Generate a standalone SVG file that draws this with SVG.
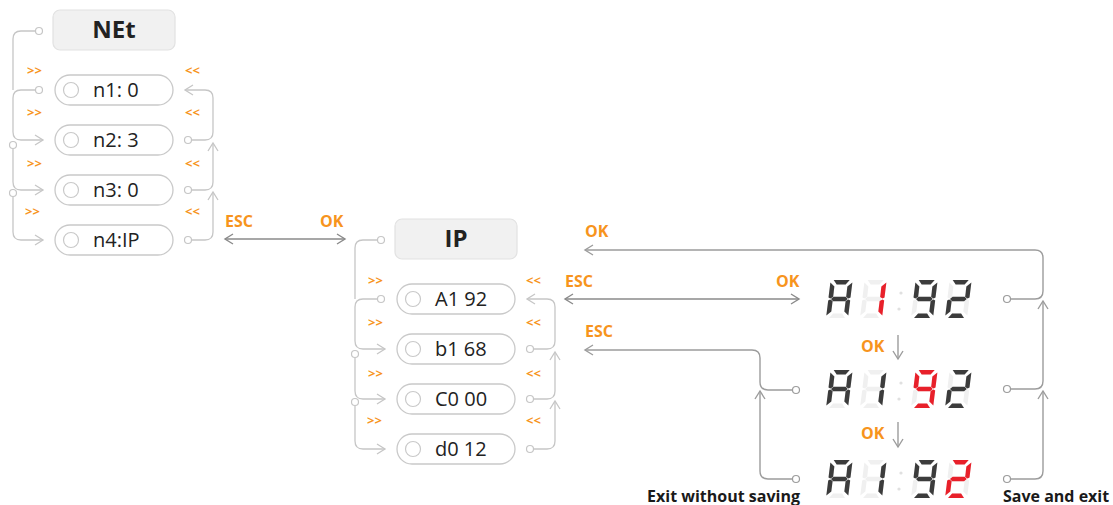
<svg xmlns="http://www.w3.org/2000/svg" xmlns:xlink="http://www.w3.org/1999/xlink" width="1113" height="505" viewBox="0 0 1113 505">
<style>
text{font-family:"Open Sans","Liberation Sans",sans-serif}
.hdr{fill:#f1f1f1;stroke:#e2e2e2;stroke-width:1.2}
.hdrt{font-size:24px;font-weight:700;fill:#222;text-anchor:middle}
.pill{fill:#fff;stroke:#c9c9c9;stroke-width:1.3}
.pc{fill:#fff;stroke:#c9c9c9;stroke-width:1.2}
.pt{font-size:20px;fill:#222}
.lbl{font-size:16px;font-weight:700;fill:#f7941d}
.sm{font-size:13px;font-weight:700;fill:#f7941d}
.blk{font-size:16px;font-weight:700;fill:#1a1a1a}
.mc{fill:none;stroke:#c6c6c6;stroke-width:1.3}
.mcd{fill:#fff;stroke:#c6c6c6;stroke-width:1.2}
.dc{fill:none;stroke:#9c9c9c;stroke-width:1.4}
.dcd{fill:#fff;stroke:#9c9c9c;stroke-width:1.2}
.ec{fill:none;stroke:#8a8a8a;stroke-width:1.4}
.off{fill:#f0f0f0}
.on{fill:#3c3c3c}
.red{fill:#e8202a}
.dot{fill:#e0e0e0}
</style>
<defs>
<marker id="am" viewBox="-10 -7 12 14" markerWidth="12" markerHeight="14" refX="0" refY="0" orient="auto-start-reverse" markerUnits="userSpaceOnUse">
<path d="M-8,-5 L0,0 L-8,5" fill="none" stroke="#c6c6c6" stroke-width="1.3"/>
</marker>
<marker id="ad" viewBox="-10 -7 12 14" markerWidth="12" markerHeight="14" refX="0" refY="0" orient="auto-start-reverse" markerUnits="userSpaceOnUse">
<path d="M-8,-5 L0,0 L-8,5" fill="none" stroke="#9c9c9c" stroke-width="1.4"/>
</marker>
<marker id="ae" viewBox="-10 -7 12 14" markerWidth="12" markerHeight="14" refX="0" refY="0" orient="auto-start-reverse" markerUnits="userSpaceOnUse">
<path d="M-8,-5 L0,0 L-8,5" fill="none" stroke="#8a8a8a" stroke-width="1.4"/>
</marker>
<path id="sa" d="M3,0 H19 L15.5,4.5 H6.5 Z"/>
<path id="sb" d="M22,2.5 L22,17.6 L20.2,18.6 L17.5,17 L17.5,6.5 Z"/>
<path id="sc" d="M22,20.4 L22,35.5 L17.5,31.5 L17.5,21 L20.2,19.4 Z"/>
<path id="sd" d="M3,38 L6.5,33.5 H15.5 L19,38 Z"/>
<path id="se" d="M0,20.4 L1.8,19.4 L4.5,21 L4.5,31.5 L0,35.5 Z"/>
<path id="sf" d="M0,2.5 L4.5,6.5 L4.5,17 L1.8,18.6 L0,17.6 Z"/>
<path id="sg" d="M2.6,19 L5,16.8 H17 L19.4,19 L17,21.2 H5 Z"/>
<g id="d8"><use href="#sa"/><use href="#sb"/><use href="#sc"/><use href="#sd"/><use href="#se"/><use href="#sf"/><use href="#sg"/></g>
<g id="dA"><use href="#sa"/><use href="#sb"/><use href="#sc"/><use href="#se"/><use href="#sf"/><use href="#sg"/></g>
<g id="d1"><use href="#sb"/><use href="#sc"/></g>
<g id="d9"><use href="#sa"/><use href="#sb"/><use href="#sc"/><use href="#sd"/><use href="#sf"/><use href="#sg"/></g>
<g id="d2"><use href="#sa"/><use href="#sb"/><use href="#sg"/><use href="#se"/><use href="#sd"/></g>
</defs>
<rect width="1113" height="505" fill="#fff"/>

<!-- NEt menu -->
<g id="net-header"><rect class="hdr" x="53" y="10" width="122" height="40" rx="7"/><text class="hdrt" x="114" y="38">NEt</text></g>
<g id="n1"><rect class="pill" x="55" y="75" width="118" height="30" rx="15"/><circle class="pc" cx="71" cy="90" r="7.5"/><text class="pt" x="93" y="97">n1: 0</text></g>
<g id="n2"><rect class="pill" x="55" y="125" width="118" height="30" rx="15"/><circle class="pc" cx="71" cy="140" r="7.5"/><text class="pt" x="93" y="147">n2: 3</text></g>
<g id="n3"><rect class="pill" x="55" y="175" width="118" height="30" rx="15"/><circle class="pc" cx="71" cy="190" r="7.5"/><text class="pt" x="93" y="197">n3: 0</text></g>
<g id="n4"><rect class="pill" x="55" y="225" width="118" height="30" rx="15"/><circle class="pc" cx="71" cy="240" r="7.5"/><text class="pt" x="93" y="247">n4:IP</text></g>

<!-- IP menu -->
<g id="ip-header"><rect class="hdr" x="395" y="219" width="122" height="40" rx="7"/><text class="hdrt" x="456" y="247">IP</text></g>
<g id="a192"><rect class="pill" x="397" y="284" width="118" height="30" rx="15"/><circle class="pc" cx="413" cy="299" r="7.5"/><text class="pt" x="435" y="306">A1 92</text></g>
<g id="b168"><rect class="pill" x="397" y="334" width="118" height="30" rx="15"/><circle class="pc" cx="413" cy="349" r="7.5"/><text class="pt" x="435" y="356">b1 68</text></g>
<g id="c000"><rect class="pill" x="397" y="384" width="118" height="30" rx="15"/><circle class="pc" cx="413" cy="399" r="7.5"/><text class="pt" x="435" y="406">C0 00</text></g>
<g id="d012"><rect class="pill" x="397" y="434" width="118" height="30" rx="15"/><circle class="pc" cx="413" cy="449" r="7.5"/><text class="pt" x="435" y="456">d0 12</text></g>

<!-- Displays -->
<g id="disp1">
<g transform="translate(830.7,280) skewX(-7)"><use href="#d8" class="off"/><use href="#dA" class="on"/></g>
<g transform="translate(864.7,280) skewX(-7)"><use href="#d8" class="off"/><use href="#d1" class="red"/></g>
<circle class="dot" cx="901" cy="293" r="1.6"/><circle class="dot" cx="899" cy="309" r="1.6"/>
<g transform="translate(915.7,280) skewX(-7)"><use href="#d8" class="off"/><use href="#d9" class="on"/></g>
<g transform="translate(949.7,280) skewX(-7)"><use href="#d8" class="off"/><use href="#d2" class="on"/></g>
</g>
<g id="disp2">
<g transform="translate(830.7,370) skewX(-7)"><use href="#d8" class="off"/><use href="#dA" class="on"/></g>
<g transform="translate(864.7,370) skewX(-7)"><use href="#d8" class="off"/><use href="#d1" class="on"/></g>
<circle class="dot" cx="901" cy="383" r="1.6"/><circle class="dot" cx="899" cy="399" r="1.6"/>
<g transform="translate(915.7,370) skewX(-7)"><use href="#d8" class="off"/><use href="#d9" class="red"/></g>
<g transform="translate(949.7,370) skewX(-7)"><use href="#d8" class="off"/><use href="#d2" class="on"/></g>
</g>
<g id="disp3">
<g transform="translate(830.7,460) skewX(-7)"><use href="#d8" class="off"/><use href="#dA" class="on"/></g>
<g transform="translate(864.7,460) skewX(-7)"><use href="#d8" class="off"/><use href="#d1" class="on"/></g>
<circle class="dot" cx="901" cy="473" r="1.6"/><circle class="dot" cx="899" cy="489" r="1.6"/>
<g transform="translate(915.7,460) skewX(-7)"><use href="#d8" class="off"/><use href="#d9" class="on"/></g>
<g transform="translate(949.7,460) skewX(-7)"><use href="#d8" class="off"/><use href="#d2" class="red"/></g>
</g>

<!-- Connectors -->
<g id="connectors">
<path class="mc" d="M35.5,31 H21 Q13,31 13,39 V90"/>
<circle class="mcd" cx="39" cy="31" r="3.5"/>
<path class="mc" d="M35.5,90 H21 Q13,90 13,98 V132 Q13,140 21,140 H43" marker-end="url(#am)"/>
<circle class="mcd" cx="39" cy="90" r="3.5"/>
<path class="mc" d="M13,148.5 V182 Q13,190 21,190 H43" marker-end="url(#am)"/>
<circle class="mcd" cx="13" cy="145" r="3.5"/>
<path class="mc" d="M13,196.5 V232 Q13,240 21,240 H43" marker-end="url(#am)"/>
<circle class="mcd" cx="13" cy="193" r="3.5"/>
<path class="mc" d="M191.5,140 H205 Q213,140 213,132 V98 Q213,90 205,90 H185" marker-end="url(#am)"/>
<circle class="mcd" cx="188" cy="140" r="3.5"/>
<path class="mc" d="M191.5,190 H205 Q213,190 213,182 V143" marker-end="url(#am)"/>
<circle class="mcd" cx="188" cy="190" r="3.5"/>
<path class="mc" d="M191.5,240 H205 Q213,240 213,232 V192" marker-end="url(#am)"/>
<circle class="mcd" cx="188" cy="240" r="3.5"/>
<path class="mc" d="M377.5,240 H363 Q355,240 355,248 V299"/>
<circle class="mcd" cx="381" cy="240" r="3.5"/>
<path class="mc" d="M377.5,299 H363 Q355,299 355,307 V341 Q355,349 363,349 H385" marker-end="url(#am)"/>
<circle class="mcd" cx="381" cy="299" r="3.5"/>
<path class="mc" d="M355,357.5 V391 Q355,399 363,399 H385" marker-end="url(#am)"/>
<circle class="mcd" cx="355" cy="354" r="3.5"/>
<path class="mc" d="M355,405.5 V441 Q355,449 363,449 H385" marker-end="url(#am)"/>
<circle class="mcd" cx="355" cy="402" r="3.5"/>
<path class="mc" d="M533.5,349 H547 Q555,349 555,341 V307 Q555,299 547,299 H527" marker-end="url(#am)"/>
<circle class="mcd" cx="530" cy="349" r="3.5"/>
<path class="mc" d="M533.5,399 H547 Q555,399 555,391 V352" marker-end="url(#am)"/>
<circle class="mcd" cx="530" cy="399" r="3.5"/>
<path class="mc" d="M533.5,449 H547 Q555,449 555,441 V401" marker-end="url(#am)"/>
<circle class="mcd" cx="530" cy="449" r="3.5"/>
<path class="ec" d="M225,239 H345" marker-start="url(#ae)" marker-end="url(#ae)"/>
<path class="ec" d="M565,299 H799" marker-start="url(#ae)" marker-end="url(#ae)"/>
<path class="dc" d="M1010.5,299 H1035 Q1043,299 1043,291 V258 Q1043,250 1035,250 H585" marker-end="url(#ad)"/>
<circle class="dcd" cx="1007" cy="299" r="3.5"/>
<path class="dc" d="M1010.5,389 H1035 Q1043,389 1043,381 V301" marker-end="url(#ad)"/>
<circle class="dcd" cx="1007" cy="389" r="3.5"/>
<path class="dc" d="M1010.5,479 H1035 Q1043,479 1043,471 V391" marker-end="url(#ad)"/>
<circle class="dcd" cx="1007" cy="479" r="3.5"/>
<path class="dc" d="M792.5,390 H768 Q760,390 760,382 V358 Q760,350 752,350 H585" marker-end="url(#ad)"/>
<circle class="dcd" cx="796" cy="390" r="3.5"/>
<path class="dc" d="M792.5,479 H768 Q760,479 760,471 V391" marker-end="url(#ad)"/>
<circle class="dcd" cx="796" cy="479" r="3.5"/>
<path class="dc" d="M898,335 V359" marker-end="url(#ad)"/>
<path class="dc" d="M898,422 V447" marker-end="url(#ad)"/>
</g>

<!-- Labels -->
<g id="labels">
<text class="sm" x="27" y="75">&gt;&gt;</text>
<text class="sm" x="27" y="117">&gt;&gt;</text>
<text class="sm" x="27" y="168">&gt;&gt;</text>
<text class="sm" x="25" y="216">&gt;&gt;</text>
<text class="sm" x="185" y="75">&lt;&lt;</text>
<text class="sm" x="185" y="117">&lt;&lt;</text>
<text class="sm" x="185" y="168">&lt;&lt;</text>
<text class="sm" x="185" y="216">&lt;&lt;</text>
<text class="sm" x="368" y="285">&gt;&gt;</text>
<text class="sm" x="368" y="327">&gt;&gt;</text>
<text class="sm" x="368" y="378">&gt;&gt;</text>
<text class="sm" x="367" y="425">&gt;&gt;</text>
<text class="sm" x="526" y="285">&lt;&lt;</text>
<text class="sm" x="526" y="327">&lt;&lt;</text>
<text class="sm" x="526" y="378">&lt;&lt;</text>
<text class="sm" x="526" y="425">&lt;&lt;</text>
<text class="lbl" x="225" y="227">ESC</text>
<text class="lbl" x="320" y="227">OK</text>
<text class="lbl" x="585" y="237">OK</text>
<text class="lbl" x="565" y="287">ESC</text>
<text class="lbl" x="776" y="287">OK</text>
<text class="lbl" x="585" y="337">ESC</text>
<text class="lbl" x="861" y="352">OK</text>
<text class="lbl" x="861" y="439">OK</text>
<text class="blk" x="800" y="502" text-anchor="end">Exit without saving</text>
<text class="blk" x="1003" y="502">Save and exit</text>
</g>
</svg>
